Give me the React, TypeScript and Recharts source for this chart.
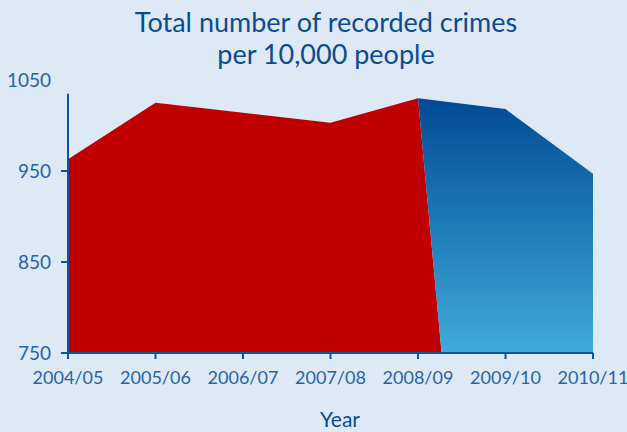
import { ComposedChart, Area, XAxis, YAxis, ReferenceLine } from 'recharts'

const years = ['2004/05', '2005/06', '2006/07', '2007/08', '2008/09', '2009/10', '2010/11']
const yTicks = [750, 850, 950, 1050]

// red part: 2004/05 .. 2008/09, closing on a slanted edge
const redX = [0, 1, 2, 3, 4, 4.27]
const redValues = [963, 1025, 1014, 1003, 1030, 750]

// blue part: 2008/09 .. 2010/11, starting from the same slanted edge
const blueX = [4.27, 4, 5, 6]
const blueValues = [750, 1030, 1018, 947]

const redData = redX.map((x, i) => ({ x, value: redValues[i] }))
const blueData = blueX.map((x, i) => ({ x, value: blueValues[i] }))

const BG = '#dde9f5'
const AXIS = '#0b55a0'
const TEXT = '#2863a8'
const FONT = 'Lato, "Open Sans", sans-serif'

const App = () => {
  return (
    <div
      style={{
        position: 'fixed',
        left: 0,
        top: 0,
        width: 627,
        height: 432,
        background: BG,
        fontFamily: FONT,
        overflow: 'hidden',
      }}
    >
      <div
        style={{
          position: 'absolute',
          left: 0,
          top: 6,
          width: 652,
          textAlign: 'center',
          color: '#0b4b92',
          fontSize: 27,
          lineHeight: '32px',
        }}
      >
        Total number of recorded crimes
        <br />
        per 10,000 people
      </div>
      <ComposedChart
        width={627}
        height={432}
        margin={{ top: 80, right: 34, bottom: 49, left: 8 }}
        style={{ position: 'absolute', left: 0, top: 0 }}
      >
        <defs>
          <linearGradient id="blueFill" x1="0" y1="0" x2="0" y2="1">
            <stop offset="0%" stopColor="#024a94" />
            <stop offset="100%" stopColor="#3eacdb" />
          </linearGradient>
        </defs>
        <XAxis
          type="number"
          dataKey="x"
          domain={[0, 6]}
          ticks={[0, 1, 2, 3, 4, 5, 6]}
          tickFormatter={(v: number) => years[v]}
          allowDataOverflow
          height={30}
          axisLine={{ stroke: AXIS, strokeWidth: 2 }}
          tickLine={{ stroke: AXIS, strokeWidth: 2 }}
          tickSize={6}
          tickMargin={12}
          tick={{ fill: TEXT, fontSize: 18, fontFamily: FONT }}
          interval={0}
        />
        <YAxis
          type="number"
          domain={[750, 1050]}
          ticks={yTicks}
          width={60}
          axisLine={false}
          tickLine={false}
          tickSize={7}
          tickMargin={10}
          tick={{ fill: TEXT, fontSize: 19, fontFamily: FONT }}
        />
        <Area
          data={redData}
          dataKey="value"
          type="linear"
          baseValue={750}
          fill="#c00000"
          fillOpacity={1}
          stroke="none"
          isAnimationActive={false}
        />
        <Area
          data={blueData}
          dataKey="value"
          type="linear"
          baseValue={750}
          fill="url(#blueFill)"
          fillOpacity={1}
          stroke="none"
          isAnimationActive={false}
        />
        <ReferenceLine
          segment={[
            { x: 0, y: 750 },
            { x: 0, y: 1035 },
          ]}
          stroke={AXIS}
          strokeWidth={2}
          ifOverflow="visible"
        />
        {yTicks
          .filter((v) => v < 1050)
          .map((v) => (
            <ReferenceLine
              key={v}
              segment={[
                { x: -0.08, y: v },
                { x: 0, y: v },
              ]}
              stroke={AXIS}
              strokeWidth={2}
              ifOverflow="visible"
            />
          ))}
      </ComposedChart>
      <div
        style={{
          position: 'absolute',
          left: 300,
          width: 80,
          top: 406,
          textAlign: 'center',
          color: '#0b4b92',
          fontSize: 21,
        }}
      >
        Year
      </div>
    </div>
  )
}

export default App
